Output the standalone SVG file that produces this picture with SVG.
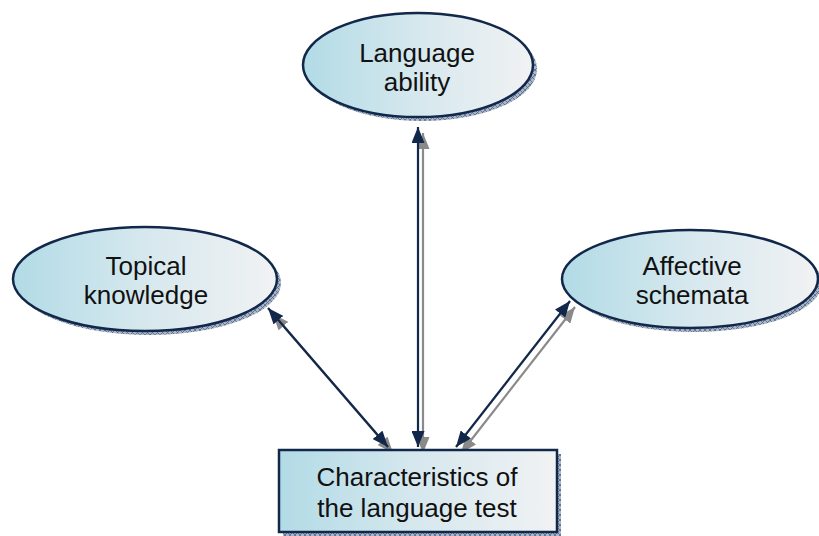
<svg xmlns="http://www.w3.org/2000/svg" width="819" height="536" viewBox="0 0 819 536">
<defs>
<linearGradient id="fillg" x1="0" y1="0" x2="1" y2="0">
<stop offset="0" stop-color="#b2dbe6"/>
<stop offset="0.5" stop-color="#d6e8ee"/>
<stop offset="1" stop-color="#f1f2f3"/>
</linearGradient>
<pattern id="hatch" width="5" height="5" patternUnits="userSpaceOnUse">
<rect width="5" height="5" fill="#aab6c6"/>
<path d="M0,0 L5,5 M5,0 L0,5" stroke="#52668a" stroke-width="0.8"/>
</pattern>
<marker id="ah" viewBox="0 0 16 13" refX="16" refY="6.5" markerWidth="16" markerHeight="13" markerUnits="userSpaceOnUse" orient="auto-start-reverse">
<path d="M0,0 L16,6.5 L0,13 Z" fill="#12284a"/>
</marker>
<marker id="ahg" viewBox="0 0 16 13" refX="16" refY="6.5" markerWidth="16" markerHeight="13" markerUnits="userSpaceOnUse" orient="auto-start-reverse">
<path d="M0,0 L16,6.5 L0,13 Z" fill="#8a8a8a"/>
</marker>
</defs>
<style>
.node{fill:url(#fillg);stroke:#12284a;stroke-width:2.5}
.shadow{fill:url(#hatch)}
.lbl{font-family:"Liberation Sans",Arial,sans-serif;font-size:26px;fill:#111;text-anchor:middle}
.c{stroke:#12284a;stroke-width:2.2;fill:none;marker-start:url(#ah);marker-end:url(#ah)}
.cs{stroke:#8a8a8a;stroke-width:2.2;fill:none;marker-start:url(#ahg);marker-end:url(#ahg)}
</style>
<g id="connectors">
<line class="cs" x1="423" y1="133" x2="423" y2="453"/>
<line class="c" x1="418" y1="127" x2="418" y2="447"/>
<line class="cs" x1="273" y1="314" x2="393" y2="453"/>
<line class="c" x1="268" y1="308" x2="388" y2="447"/>
<line class="cs" x1="575" y1="307" x2="461" y2="453"/>
<line class="c" x1="570" y1="301" x2="456" y2="447"/>
</g>
<g id="language-ability">
<ellipse class="shadow" cx="422" cy="69" rx="115" ry="52"/>
<ellipse class="node" cx="418" cy="65" rx="115" ry="52"/>
<text class="lbl" x="417" y="62">Language</text>
<text class="lbl" x="417" y="91">ability</text>
</g>
<g id="topical-knowledge">
<ellipse class="shadow" cx="149" cy="283" rx="132" ry="52"/>
<ellipse class="node" cx="145" cy="279" rx="132" ry="52"/>
<text class="lbl" x="146" y="275">Topical</text>
<text class="lbl" x="146" y="304">knowledge</text>
</g>
<g id="affective-schemata">
<ellipse class="shadow" cx="694" cy="283" rx="128" ry="49"/>
<ellipse class="node" cx="690" cy="279" rx="128" ry="49"/>
<text class="lbl" x="692" y="275">Affective</text>
<text class="lbl" x="692" y="304">schemata</text>
</g>
<g id="characteristics">
<rect class="shadow" x="283" y="454" width="278" height="82"/>
<rect class="node" x="279" y="450" width="278" height="82"/>
<text class="lbl" x="417" y="486">Characteristics of</text>
<text class="lbl" x="417" y="517">the language test</text>
</g>
</svg>
